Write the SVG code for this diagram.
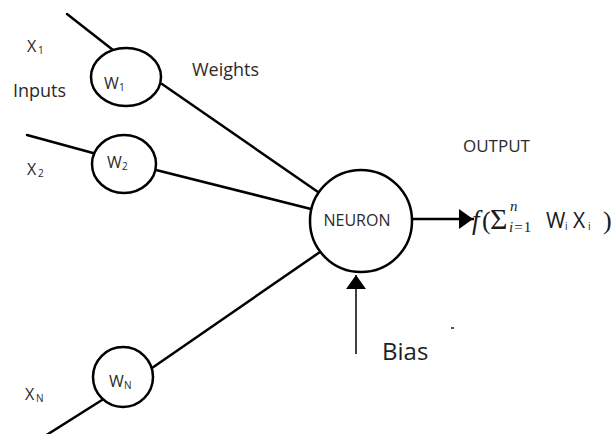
<svg xmlns="http://www.w3.org/2000/svg" width="614" height="434" viewBox="0 0 614 434">
  <style>
    .node { fill: #ffffff; stroke: #000000; stroke-width: 2.5; }
    .wire { fill: none; stroke: #000000; stroke-width: 2.5; stroke-linecap: round; }
    .thin { fill: none; stroke: #000000; stroke-width: 1.5; }
    .lbl { font-family: "Open Sans", "Liberation Sans", sans-serif; fill: #2a2a2a; }
    .sub { font-family: "Open Sans", "Liberation Sans", sans-serif; fill: #2a2a2a; font-size: 10px; }
    .math { font-family: "Liberation Serif", "DejaVu Serif", serif; fill: #1a1a1a; }
  </style>
  <defs>
    <marker id="head" viewBox="0 0 14 20" refX="14" refY="10" markerWidth="14" markerHeight="20" markerUnits="userSpaceOnUse" orient="auto">
      <path d="M0,0 L14,10 L0,20 Z" fill="#000000"/>
    </marker>
  </defs>

  <rect width="614" height="434" fill="#ffffff"/>

  <!-- connectors -->
  <g id="connectors">
    <line class="wire" x1="67" y1="14" x2="113" y2="50"/>
    <line class="wire" x1="27" y1="135" x2="93" y2="153"/>
    <line class="wire" x1="102" y1="400" x2="45" y2="436"/>
    <line class="wire" x1="162" y1="84" x2="318" y2="192"/>
    <line class="wire" x1="156" y1="170" x2="311" y2="209"/>
    <line class="wire" x1="152" y1="368" x2="320" y2="252"/>
    <line class="wire" x1="412" y1="219" x2="473" y2="219" marker-end="url(#head)"/>
    <line class="thin" x1="356" y1="354" x2="356" y2="275" marker-end="url(#head)"/>
  </g>

  <!-- weights -->
  <g id="w1">
    <ellipse class="node" cx="126" cy="77" rx="35" ry="29"/>
    <text class="lbl" x="104" y="89" font-size="16">W</text>
    <text class="sub" x="119" y="91">1</text>
  </g>
  <g id="w2">
    <ellipse class="node" cx="124" cy="164" rx="32" ry="29"/>
    <text class="lbl" x="107" y="168" font-size="16">W</text>
    <text class="sub" x="122" y="170">2</text>
  </g>
  <g id="wn">
    <ellipse class="node" cx="123" cy="377" rx="30" ry="30"/>
    <text class="lbl" x="109" y="387" font-size="16">W</text>
    <text class="sub" x="124" y="389">N</text>
  </g>

  <!-- neuron -->
  <g id="neuron">
    <circle class="node" cx="361" cy="221" r="51"/>
    <text class="lbl" x="357" y="226" font-size="16" text-anchor="middle">NEURON</text>
  </g>

  <!-- inputs -->
  <g id="x1">
    <text class="lbl" x="27" y="52" font-size="16">X</text>
    <text class="sub" x="38" y="54">1</text>
  </g>
  <g id="x2">
    <text class="lbl" x="27" y="175" font-size="16">X</text>
    <text class="sub" x="38" y="177">2</text>
  </g>
  <g id="xn">
    <text class="lbl" x="25" y="400" font-size="16">X</text>
    <text class="sub" x="36" y="402">N</text>
  </g>

  <!-- captions -->
  <g id="captions">
    <text class="lbl" x="13" y="97" font-size="18">Inputs</text>
    <text class="lbl" x="192" y="76" font-size="18">Weights</text>
    <text class="lbl" x="463" y="152" font-size="17">OUTPUT</text>
    <text class="lbl" x="382" y="360" font-size="24" style="fill:#1e1e1e">Bias</text>
  </g>

  <!-- output formula -->
  <g id="output">
    <text class="math" x="472" y="229" font-size="27" font-style="italic">f</text>
    <text class="math" x="482" y="229" font-size="26">(</text>
    <text class="math" x="490" y="229" font-size="30">Σ</text>
    <text class="math" x="510" y="211" font-size="15" font-style="italic">n</text>
    <text class="math" x="509" y="232" font-size="15" letter-spacing="1"><tspan font-style="italic">i</tspan>=1</text>
    <text class="lbl" x="546" y="228" font-size="21" style="fill:#1a1a1a">W</text>
    <text class="sub" x="565" y="230" font-size="12" style="fill:#1a1a1a">i</text>
    <text class="lbl" x="573" y="228" font-size="21" style="fill:#1a1a1a">X</text>
    <text class="sub" x="588" y="230" font-size="12" style="fill:#1a1a1a">i</text>
    <text class="math" x="603" y="229" font-size="26">)</text>
  </g>

  <rect x="451" y="327" width="3" height="2" fill="#555555"/>
</svg>
